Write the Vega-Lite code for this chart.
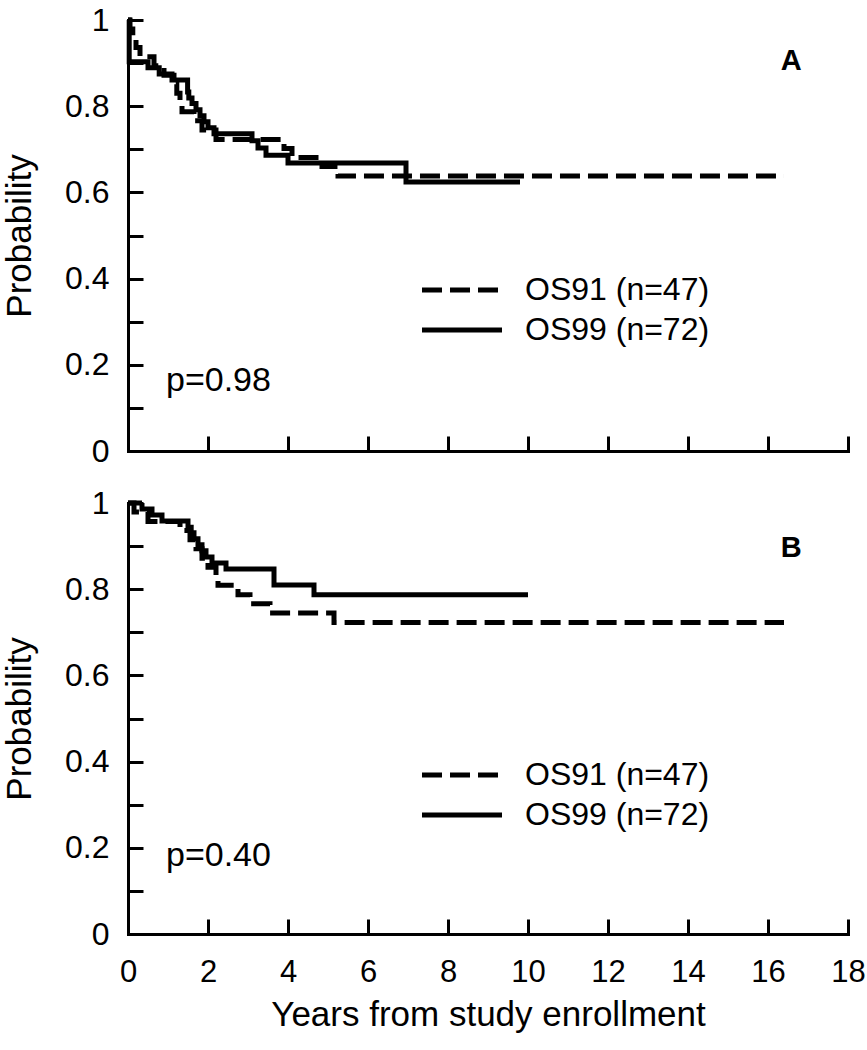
{
  "$schema": "https://vega.github.io/schema/vega-lite/v6.json",
  "padding": {"left": 2, "top": 4, "right": 0, "bottom": 2},
  "spacing": 20,
  "datasets": {
    "curves": [
      {"panel": "A", "group": "OS91 (n=47)", "t": 0, "p": 1},
      {"panel": "A", "group": "OS91 (n=47)", "t": 0.05, "p": 0.979},
      {"panel": "A", "group": "OS91 (n=47)", "t": 0.12, "p": 0.957},
      {"panel": "A", "group": "OS91 (n=47)", "t": 0.2, "p": 0.936},
      {"panel": "A", "group": "OS91 (n=47)", "t": 0.3, "p": 0.915},
      {"panel": "A", "group": "OS91 (n=47)", "t": 0.65, "p": 0.894},
      {"panel": "A", "group": "OS91 (n=47)", "t": 0.9, "p": 0.872},
      {"panel": "A", "group": "OS91 (n=47)", "t": 1.15, "p": 0.851},
      {"panel": "A", "group": "OS91 (n=47)", "t": 1.22, "p": 0.83},
      {"panel": "A", "group": "OS91 (n=47)", "t": 1.3, "p": 0.809},
      {"panel": "A", "group": "OS91 (n=47)", "t": 1.35, "p": 0.787},
      {"panel": "A", "group": "OS91 (n=47)", "t": 1.65, "p": 0.766},
      {"panel": "A", "group": "OS91 (n=47)", "t": 1.85, "p": 0.745},
      {"panel": "A", "group": "OS91 (n=47)", "t": 2.2, "p": 0.723},
      {"panel": "A", "group": "OS91 (n=47)", "t": 3.9, "p": 0.702},
      {"panel": "A", "group": "OS91 (n=47)", "t": 4.1, "p": 0.681},
      {"panel": "A", "group": "OS91 (n=47)", "t": 4.85, "p": 0.66},
      {"panel": "A", "group": "OS91 (n=47)", "t": 5.25, "p": 0.638},
      {"panel": "A", "group": "OS91 (n=47)", "t": 16.4, "p": 0.638},
      {"panel": "A", "group": "OS99 (n=72)", "t": 0, "p": 1},
      {"panel": "A", "group": "OS99 (n=72)", "t": 0.03, "p": 0.903},
      {"panel": "A", "group": "OS99 (n=72)", "t": 0.5, "p": 0.889},
      {"panel": "A", "group": "OS99 (n=72)", "t": 0.78, "p": 0.875},
      {"panel": "A", "group": "OS99 (n=72)", "t": 1.1, "p": 0.861},
      {"panel": "A", "group": "OS99 (n=72)", "t": 1.49, "p": 0.833},
      {"panel": "A", "group": "OS99 (n=72)", "t": 1.52, "p": 0.819},
      {"panel": "A", "group": "OS99 (n=72)", "t": 1.6, "p": 0.806},
      {"panel": "A", "group": "OS99 (n=72)", "t": 1.7, "p": 0.792},
      {"panel": "A", "group": "OS99 (n=72)", "t": 1.8, "p": 0.778},
      {"panel": "A", "group": "OS99 (n=72)", "t": 1.9, "p": 0.764},
      {"panel": "A", "group": "OS99 (n=72)", "t": 2.0, "p": 0.75},
      {"panel": "A", "group": "OS99 (n=72)", "t": 2.15, "p": 0.736},
      {"panel": "A", "group": "OS99 (n=72)", "t": 3.1, "p": 0.72},
      {"panel": "A", "group": "OS99 (n=72)", "t": 3.25, "p": 0.703},
      {"panel": "A", "group": "OS99 (n=72)", "t": 3.45, "p": 0.686},
      {"panel": "A", "group": "OS99 (n=72)", "t": 4.0, "p": 0.668},
      {"panel": "A", "group": "OS99 (n=72)", "t": 6.95, "p": 0.624},
      {"panel": "A", "group": "OS99 (n=72)", "t": 9.8, "p": 0.624},
      {"panel": "B", "group": "OS91 (n=47)", "t": 0, "p": 1},
      {"panel": "B", "group": "OS91 (n=47)", "t": 0.15, "p": 0.979},
      {"panel": "B", "group": "OS91 (n=47)", "t": 0.5, "p": 0.957},
      {"panel": "B", "group": "OS91 (n=47)", "t": 1.3, "p": 0.936},
      {"panel": "B", "group": "OS91 (n=47)", "t": 1.55, "p": 0.915},
      {"panel": "B", "group": "OS91 (n=47)", "t": 1.7, "p": 0.894},
      {"panel": "B", "group": "OS91 (n=47)", "t": 1.85, "p": 0.872},
      {"panel": "B", "group": "OS91 (n=47)", "t": 2.0, "p": 0.851},
      {"panel": "B", "group": "OS91 (n=47)", "t": 2.2, "p": 0.83},
      {"panel": "B", "group": "OS91 (n=47)", "t": 2.25, "p": 0.809},
      {"panel": "B", "group": "OS91 (n=47)", "t": 2.75, "p": 0.787},
      {"panel": "B", "group": "OS91 (n=47)", "t": 3.05, "p": 0.766},
      {"panel": "B", "group": "OS91 (n=47)", "t": 3.55, "p": 0.745},
      {"panel": "B", "group": "OS91 (n=47)", "t": 5.15, "p": 0.723},
      {"panel": "B", "group": "OS91 (n=47)", "t": 16.4, "p": 0.723},
      {"panel": "B", "group": "OS99 (n=72)", "t": 0, "p": 1},
      {"panel": "B", "group": "OS99 (n=72)", "t": 0.35, "p": 0.986},
      {"panel": "B", "group": "OS99 (n=72)", "t": 0.6, "p": 0.972},
      {"panel": "B", "group": "OS99 (n=72)", "t": 0.85, "p": 0.958},
      {"panel": "B", "group": "OS99 (n=72)", "t": 1.5, "p": 0.944},
      {"panel": "B", "group": "OS99 (n=72)", "t": 1.58, "p": 0.931},
      {"panel": "B", "group": "OS99 (n=72)", "t": 1.65, "p": 0.917},
      {"panel": "B", "group": "OS99 (n=72)", "t": 1.75, "p": 0.903},
      {"panel": "B", "group": "OS99 (n=72)", "t": 1.85, "p": 0.889},
      {"panel": "B", "group": "OS99 (n=72)", "t": 1.95, "p": 0.875},
      {"panel": "B", "group": "OS99 (n=72)", "t": 2.1, "p": 0.861},
      {"panel": "B", "group": "OS99 (n=72)", "t": 2.45, "p": 0.847},
      {"panel": "B", "group": "OS99 (n=72)", "t": 3.65, "p": 0.81},
      {"panel": "B", "group": "OS99 (n=72)", "t": 4.65, "p": 0.787},
      {"panel": "B", "group": "OS99 (n=72)", "t": 10.0, "p": 0.787}
    ],
    "notes": [
      {"panel": "A", "kind": "pvalue", "t": 0.95, "p": 0.162, "label": "p=0.98"},
      {"panel": "A", "kind": "letter", "t": 16.58, "p": 0.905, "label": "A"},
      {"panel": "B", "kind": "pvalue", "t": 0.95, "p": 0.182, "label": "p=0.40"},
      {"panel": "B", "kind": "letter", "t": 16.58, "p": 0.896, "label": "B"}
    ]
  },
  "config": {
    "view": {"stroke": null},
    "font": "Liberation Sans",
    "axis": {
      "domainColor": "black", "domainWidth": 3, "domainCap": "square",
      "tickColor": "black", "tickWidth": 3, "tickSize": -15,
      "grid": false,
      "labelFont": "Liberation Sans", "labelFontSize": 32, "labelColor": "black",
      "titleFont": "Liberation Sans", "titleFontSize": 35, "titleFontWeight": "normal", "titleColor": "black"
    },
    "legend": {
      "labelFont": "Liberation Sans", "labelFontSize": 32, "labelColor": "black", "labelLimit": 400
    }
  },
  "resolve": {"legend": {"strokeDash": "independent"}},
  "vconcat": [
    {
      "width": 720, "height": 431,
      "layer": [
        {
          "data": {"name": "curves"},
          "transform": [{"filter": "datum.panel === 'A'"}],
          "mark": {"type": "line", "interpolate": "step-after", "color": "black", "strokeWidth": 5, "strokeCap": "butt"},
          "encoding": {
            "x": {"field": "t", "type": "quantitative", "scale": {"domain": [0, 18], "nice": false},
                  "axis": {"values": [0, 2, 4, 6, 8, 10, 12, 14, 16, 18], "labels": false, "title": null}},
            "y": {"field": "p", "type": "quantitative", "scale": {"domain": [0, 1], "nice": false},
                  "axis": {"title": "Probability", "values": [0, 0.1, 0.2, 0.3, 0.4, 0.5, 0.6, 0.7, 0.8, 0.9, 1],
                           "labelExpr": "round(datum.value * 10) % 2 == 0 ? format(datum.value, '~g') : ''",
                           "labelPadding": 34, "titlePadding": 27}},
            "strokeDash": {"field": "group", "type": "nominal",
                           "scale": {"domain": ["OS91 (n=47)", "OS99 (n=72)"], "range": [[20, 8], [1, 0]]},
                           "legend": {"title": null, "orient": "none", "legendX": 318, "legendY": 254,
                                      "symbolType": "M-4,0L4,0", "symbolSize": 400, "symbolStrokeWidth": 5,
                                      "symbolStrokeColor": "black", "symbolFillColor": "transparent",
                                      "labelOffset": 47, "rowPadding": 8, "padding": 0, "symbolOffset": 0}}
          }
        },
        {
          "data": {"name": "notes"},
          "transform": [{"filter": "datum.panel === 'A' && datum.kind === 'pvalue'"}],
          "mark": {"type": "text", "align": "left", "baseline": "middle", "fontSize": 34, "font": "Liberation Sans", "color": "black"},
          "encoding": {"x": {"field": "t", "type": "quantitative"}, "y": {"field": "p", "type": "quantitative"}, "text": {"field": "label"}}
        },
        {
          "data": {"name": "notes"},
          "transform": [{"filter": "datum.panel === 'A' && datum.kind === 'letter'"}],
          "mark": {"type": "text", "align": "center", "baseline": "middle", "fontSize": 29, "fontWeight": "bold", "font": "Liberation Sans", "color": "black"},
          "encoding": {"x": {"field": "t", "type": "quantitative"}, "y": {"field": "p", "type": "quantitative"}, "text": {"field": "label"}}
        }
      ]
    },
    {
      "width": 720, "height": 431,
      "layer": [
        {
          "data": {"name": "curves"},
          "transform": [{"filter": "datum.panel === 'B'"}],
          "mark": {"type": "line", "interpolate": "step-after", "color": "black", "strokeWidth": 5, "strokeCap": "butt"},
          "encoding": {
            "x": {"field": "t", "type": "quantitative", "scale": {"domain": [0, 18], "nice": false},
                  "axis": {"values": [0, 2, 4, 6, 8, 10, 12, 14, 16, 18], "title": "Years from study enrollment",
                           "labelPadding": 38, "labelFlush": false, "titlePadding": 10, "labelFontSize": 31}},
            "y": {"field": "p", "type": "quantitative", "scale": {"domain": [0, 1], "nice": false},
                  "axis": {"title": "Probability", "values": [0, 0.1, 0.2, 0.3, 0.4, 0.5, 0.6, 0.7, 0.8, 0.9, 1],
                           "labelExpr": "round(datum.value * 10) % 2 == 0 ? format(datum.value, '~g') : ''",
                           "labelPadding": 34, "titlePadding": 27}},
            "strokeDash": {"field": "group", "type": "nominal",
                           "scale": {"domain": ["OS91 (n=47)", "OS99 (n=72)"], "range": [[20, 8], [1, 0]]},
                           "legend": {"title": null, "orient": "none", "legendX": 318, "legendY": 256,
                                      "symbolType": "M-4,0L4,0", "symbolSize": 400, "symbolStrokeWidth": 5,
                                      "symbolStrokeColor": "black", "symbolFillColor": "transparent",
                                      "labelOffset": 47, "rowPadding": 8, "padding": 0, "symbolOffset": 0}}
          }
        },
        {
          "data": {"name": "notes"},
          "transform": [{"filter": "datum.panel === 'B' && datum.kind === 'pvalue'"}],
          "mark": {"type": "text", "align": "left", "baseline": "middle", "fontSize": 34, "font": "Liberation Sans", "color": "black"},
          "encoding": {"x": {"field": "t", "type": "quantitative"}, "y": {"field": "p", "type": "quantitative"}, "text": {"field": "label"}}
        },
        {
          "data": {"name": "notes"},
          "transform": [{"filter": "datum.panel === 'B' && datum.kind === 'letter'"}],
          "mark": {"type": "text", "align": "center", "baseline": "middle", "fontSize": 29, "fontWeight": "bold", "font": "Liberation Sans", "color": "black"},
          "encoding": {"x": {"field": "t", "type": "quantitative"}, "y": {"field": "p", "type": "quantitative"}, "text": {"field": "label"}}
        }
      ]
    }
  ]
}
